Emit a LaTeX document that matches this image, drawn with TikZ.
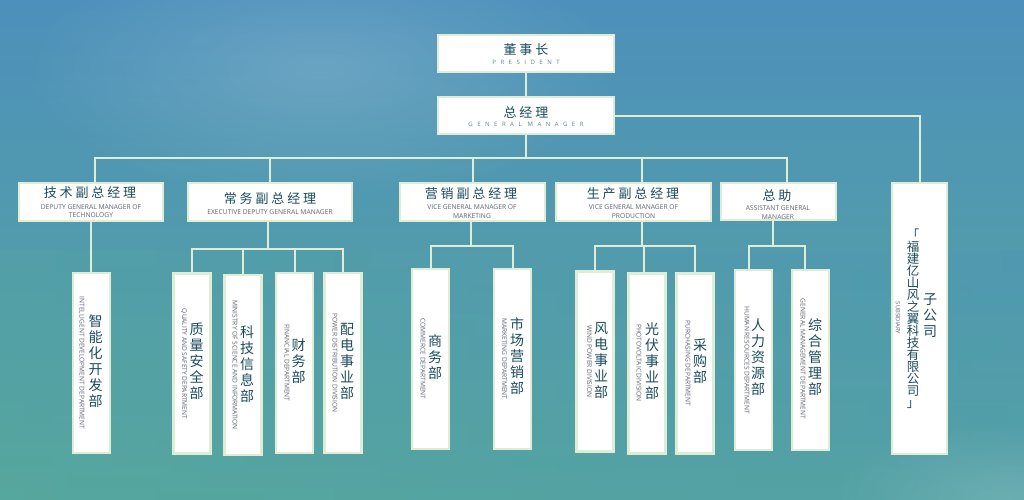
\documentclass[tikz,border=0pt]{standalone}
\usepackage{fontspec}
\usetikzlibrary{fadings}
\newfontfamily\cjk{Noto Sans CJK SC}
\newfontfamily\cjksp[LetterSpace=22]{Noto Sans CJK SC}
\newfontfamily\en{Open Sans}
\newfontfamily\enwide[LetterSpace=75]{Open Sans}
\definecolor{bgtop}{HTML}{4D90BB}
\definecolor{bgmid}{HTML}{5A9DB0}
\definecolor{bgbot}{HTML}{56A79E}
\definecolor{boxline}{HTML}{DFEDD6}
\definecolor{titlec}{HTML}{1B4C5C}
\definecolor{enc}{HTML}{5F6377}
\definecolor{enwc}{HTML}{5E8496}
\tikzfading[name=softblob, inner color=transparent!0, outer color=transparent!100]
\tikzset{
  box/.style={draw=boxline, line width=2.4pt, fill=white, inner sep=0pt},
  conn/.style={draw=boxline, line width=2pt},
  ttl/.style={font=\cjksp\fontsize{13}{15}\selectfont, text=titlec, inner sep=0pt},
  ens/.style={font=\en\fontsize{6.7}{8.5}\selectfont, text=enc, inner sep=0pt, align=center},
  enw/.style={font=\enwide\fontsize{6}{7}\selectfont, text=enwc, inner sep=0pt},
  vcn/.style={font=\cjk\fontsize{14}{16}\selectfont, text=titlec, inner sep=0pt, align=center},
  vce/.style={font=\en\fontsize{6.6}{7}\selectfont, text=enc, inner sep=0pt, rotate=-90},
  dept/.style={box, minimum width=37pt, minimum height=180pt},
}
\begin{document}
\begin{tikzpicture}[x=1pt,y=-1pt]
\useasboundingbox (0,0) rectangle (1024,499);
\shade[top color=bgtop, middle color=bgmid, bottom color=bgbot] (0,0) rectangle (1024,499);
\shade[left color=bgbot, right color=bgtop, opacity=0.25] (0,250) rectangle (1024,499);
\fill[white, opacity=0.16, path fading=softblob] (320,70) ellipse [x radius=300, y radius=130];
\fill[white, opacity=0.14, path fading=softblob] (1010,499) ellipse [x radius=180, y radius=80];

% top boxes
\node[box, minimum width=176pt, minimum height=37pt] (pres) at (526,53.5) {};
\node[ttl] (prest) at (526,50) {董事长};
\node[enw] (prese) at (526,62) {PRESIDENT};
\node[box, minimum width=176pt, minimum height=37pt] (gm) at (526,115.5) {};
\node[ttl] (gmt) at (526,112) {总经理};
\node[enw] (gme) at (526,124) {GENERAL MANAGER};

% deputies
\node[box, minimum width=144pt, minimum height=38pt] (d1) at (91,202) {};
\node[ttl] (d1t) at (90,193) {技术副总经理};
\node[ens] (d1e) at (91,211) {DEPUTY GENERAL MANAGER OF\\TECHNOLOGY};
\node[box, minimum width=164pt, minimum height=38pt] (d2) at (270,202) {};
\node[ttl] (d2t) at (270,199) {常务副总经理};
\node[ens] (d2e) at (270,212) {EXECUTIVE DEPUTY GENERAL MANAGER};
\node[box, minimum width=145pt, minimum height=38pt] (d3) at (472.5,202) {};
\node[ttl] (d3t) at (471,194) {营销副总经理};
\node[ens] (d3e) at (472,211.5) {VICE GENERAL MANAGER OF\\MARKETING};
\node[box, minimum width=155pt, minimum height=38pt] (d4) at (633.5,202) {};
\node[ttl] (d4t) at (633,194) {生产副总经理};
\node[ens] (d4e) at (633.5,211.5) {VICE GENERAL MANAGER OF\\PRODUCTION};
\node[box, minimum width=115pt, minimum height=37pt] (d5) at (778.5,201.5) {};
\node[ttl] (d5t) at (777,196) {总助};
\node[ens] (d5e) at (778,212.5) {ASSISTANT GENERAL\\MANAGER};

% subsidiary
\node[box, minimum width=55pt, minimum height=271pt] (sub) at (919.5,318.5) {};
\node[vcn] (subz) at (930,315.5) {子\\公\\司};
\node[vcn, font=\cjk\fontsize{12.5}{12}\selectfont] (subn) at (913,318.5) {「\\福\\建\\亿\\山\\风\\之\\翼\\科\\技\\有\\限\\公\\司\\」};
\node[vce, font=\en\fontsize{5.8}{7}\selectfont] (sube) at (898,318) {SUBSIDIARY};

% departments
\node[dept] (a1) at (91.5,363) {};
\node[vcn] (a1z) at (95.5,361.5) {智\\能\\化\\开\\发\\部};
\node[vce] (a1e) at (82,363) {INTELLIGENT DEVELOPMENT DEPARTMENT};

\node[dept] (b1) at (192,363.5) {};
\node[vcn] (b1z) at (196.5,361.5) {质\\量\\安\\全\\部};
\node[vce] (b1e) at (184,364) {QUALITY AND SAFETY DEPARTMENT};
\node[dept] (b2) at (243,365) {};
\node[vcn] (b2z) at (247,364) {科\\技\\信\\息\\部};
\node[vce] (b2e) at (235,365) {MINISTRY OF SCIENCE AND INFORMATION};
\node[dept] (b3) at (294.5,363) {};
\node[vcn] (b3z) at (298.5,361.5) {财\\务\\部};
\node[vce] (b3e) at (287,363) {FINANCIAL DEPARTMENT};
\node[dept] (b4) at (343,363) {};
\node[vcn] (b4z) at (347,361.5) {配\\电\\事\\业\\部};
\node[vce] (b4e) at (335,363) {POWER DISTRIBUTION DIVISION};

\node[dept] (c1) at (430.5,359) {};
\node[vcn] (c1z) at (435,357) {商\\务\\部};
\node[vce] (c1e) at (423,359) {COMMERCE DEPARTMENT};
\node[dept] (c2) at (512.5,359) {};
\node[vcn] (c2z) at (517,356.5) {市\\场\\营\\销\\部};
\node[vce] (c2e) at (504.5,359) {MARKETING DEPARTMENT};

\node[dept] (e1) at (595,361.5) {};
\node[vcn] (e1z) at (601,360) {风\\电\\事\\业\\部};
\node[vce] (e1e) at (589.5,361.5) {WIND POWER DIVISION};
\node[dept] (e2) at (647,363.5) {};
\node[vcn] (e2z) at (652,361.5) {光\\伏\\事\\业\\部};
\node[vce] (e2e) at (639,363) {PHOTOVOLTAIC DIVISION};
\node[dept] (e3) at (695,363.5) {};
\node[vcn] (e3z) at (700,361.5) {采\\购\\部};
\node[vce] (e3e) at (688,363.5) {PURCHASING DEPARTMENT};

\node[dept] (f1) at (753.5,360) {};
\node[vcn] (f1z) at (758,357) {人\\力\\资\\源\\部};
\node[vce] (f1e) at (747,360) {HUMAN RESOURCES DEPARTMENT};
\node[dept] (f2) at (810.5,360) {};
\node[vcn] (f2z) at (815,357) {综\\合\\管\\理\\部};
\node[vce] (f2e) at (803,359) {GENERAL MANAGEMENT DEPARTMENT};

% connectors
\coordinate (busA) at (0,158);
\coordinate (busB) at (0,249);
\coordinate (busC) at (0,246);
\draw[conn] (pres.south) -- (gm.north);
\draw[conn] (gm.south) -- (gm.south |- busA);
\draw[conn] (gm.east) -| (sub.north);
\draw[conn] ([xshift=4pt]d1.north) |- ([xshift=8.5pt]d5.north |- busA) -- ([xshift=8.5pt]d5.north);
\draw[conn] (d2.north) -- (d2.north |- busA);
\draw[conn] (d3.north) -- (d3.north |- busA);
\draw[conn] ([xshift=8.5pt]d4.north) -- ([xshift=8.5pt]d4.north |- busA);

\draw[conn] (d1.south) -- (d1.south |- a1.north);

\draw[conn] ([xshift=-2pt]d2.south) -- ([xshift=-2pt]d2.south |- busB);
\draw[conn] (b1.north) |- (b4.north |- busB) -- (b4.north);
\draw[conn] (b2.north) -- (b2.north |- busB);
\draw[conn] (b3.north) -- (b3.north |- busB);

\draw[conn] ([xshift=-1.5pt]d3.south) -- ([xshift=-1.5pt]d3.south |- busC);
\draw[conn] (c1.north) |- (c2.north |- busC) -- (c2.north);

\draw[conn] ([xshift=8.5pt]d4.south) -- ([xshift=8.5pt]d4.south |- busC);
\draw[conn] (e1.north) |- (e3.north |- busC) -- (e3.north);
\draw[conn] ([xshift=-3pt]e2.north) -- ([xshift=-3pt]e2.north |- busC);

\draw[conn] ([xshift=-5.5pt]d5.south) -- ([xshift=-5.5pt]d5.south |- busC);
\draw[conn] ([xshift=-4.5pt]f1.north) |- ([xshift=-5.5pt]f2.north |- busC) -- ([xshift=-5.5pt]f2.north);
\end{tikzpicture}
\end{document}
